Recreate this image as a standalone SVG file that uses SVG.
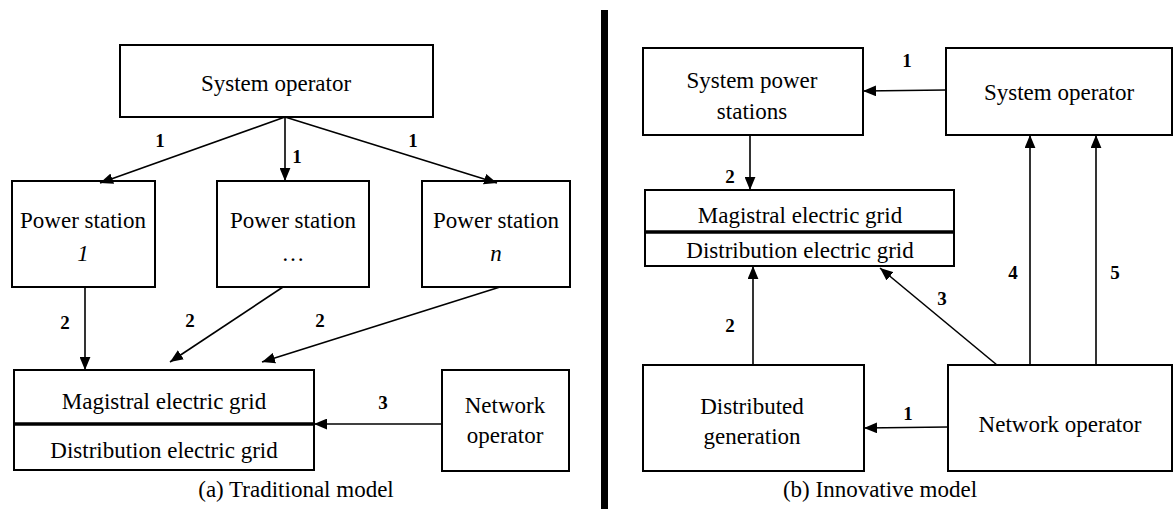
<svg xmlns="http://www.w3.org/2000/svg" width="1174" height="509" viewBox="0 0 1174 509">
<style>
.box{fill:#fff;stroke:#000;stroke-width:2}
.t{font-family:"Liberation Serif","DejaVu Serif",serif;font-size:23px;fill:#000;text-anchor:middle}
.n{font-family:"Liberation Serif","DejaVu Serif",serif;font-size:19px;font-weight:bold;fill:#000;text-anchor:middle}
.c{font-family:"Liberation Serif","DejaVu Serif",serif;font-size:23px;fill:#000;text-anchor:middle}
.l{stroke:#000;stroke-width:1.6;fill:none;marker-end:url(#ah)}
</style>
<defs>
<marker id="ah" viewBox="0 0 12 10" refX="12" refY="5" markerWidth="13" markerHeight="11" markerUnits="userSpaceOnUse" orient="auto"><path d="M0,0 L12,5 L0,10 z" fill="#000"/></marker>
</defs>
<rect width="1174" height="509" fill="#fff"/>
<rect x="601" y="10" width="7" height="499" fill="#000"/>

<g id="a-system-operator"><rect class="box" x="120" y="45" width="313" height="72"/><text class="t" x="276" y="91">System operator</text></g>
<g id="a-ps1"><rect class="box" x="12" y="181" width="143" height="106"/><text class="t" x="83" y="228">Power station</text><text class="t" x="83" y="261" font-style="italic">1</text></g>
<g id="a-ps2"><rect class="box" x="217" y="181" width="152" height="106"/><text class="t" x="293" y="228">Power station</text><text class="t" x="293" y="261">…</text></g>
<g id="a-psn"><rect class="box" x="422" y="181" width="148" height="106"/><text class="t" x="496" y="228">Power station</text><text class="t" x="496" y="261" font-style="italic">n</text></g>
<g id="a-grid"><rect class="box" x="14" y="370" width="300" height="100"/><line x1="14" y1="424" x2="314" y2="424" stroke="#000" stroke-width="3.5"/><text class="t" x="164" y="409">Magistral electric grid</text><text class="t" x="164" y="458">Distribution electric grid</text></g>
<g id="a-netop"><rect class="box" x="442" y="370" width="127" height="101"/><text class="t" x="505" y="413">Network</text><text class="t" x="505" y="443">operator</text></g>
<text class="c" x="296" y="497">(a) Traditional model</text>

<g id="b-sps"><rect class="box" x="643" y="48" width="220" height="87"/><text class="t" x="752" y="88">System power</text><text class="t" x="752" y="119">stations</text></g>
<g id="b-sysop"><rect class="box" x="946" y="48" width="226" height="87"/><text class="t" x="1059" y="100">System operator</text></g>
<g id="b-grid"><rect class="box" x="645" y="190" width="309" height="76"/><line x1="645" y1="232" x2="954" y2="232" stroke="#000" stroke-width="3.5"/><text class="t" x="800" y="223">Magistral electric grid</text><text class="t" x="800" y="258">Distribution electric grid</text></g>
<g id="b-dg"><rect class="box" x="643" y="365" width="221" height="106"/><text class="t" x="752" y="414">Distributed</text><text class="t" x="752" y="444">generation</text></g>
<g id="b-netop"><rect class="box" x="948" y="365" width="224" height="106"/><text class="t" x="1060" y="432">Network operator</text></g>
<text class="c" x="880" y="497">(b) Innovative model</text>

<g id="connectors">
<line class="l" x1="285" y1="117" x2="100" y2="183"/>
<line class="l" x1="285" y1="117" x2="285" y2="181"/>
<line class="l" x1="285" y1="117" x2="497" y2="183"/>
<line class="l" x1="85" y1="287" x2="85" y2="370"/>
<line class="l" x1="283" y1="287" x2="170" y2="362"/>
<line class="l" x1="500" y1="287" x2="262" y2="362"/>
<line class="l" x1="442" y1="424" x2="314" y2="424"/>
<line class="l" x1="946" y1="90" x2="863" y2="91"/>
<line class="l" x1="750" y1="135" x2="750" y2="190"/>
<line class="l" x1="753" y1="365" x2="753" y2="266"/>
<line class="l" x1="997" y1="365" x2="880" y2="268"/>
<line class="l" x1="1030" y1="365" x2="1030" y2="135"/>
<line class="l" x1="1096" y1="365" x2="1096" y2="135"/>
<line class="l" x1="948" y1="427" x2="864" y2="428"/>
<text class="n" x="160" y="147">1</text>
<text class="n" x="297" y="163">1</text>
<text class="n" x="413" y="147">1</text>
<text class="n" x="65" y="329">2</text>
<text class="n" x="190" y="327">2</text>
<text class="n" x="320" y="327">2</text>
<text class="n" x="383" y="409">3</text>
<text class="n" x="907" y="67">1</text>
<text class="n" x="730" y="183">2</text>
<text class="n" x="730" y="332">2</text>
<text class="n" x="942" y="305">3</text>
<text class="n" x="1013" y="279">4</text>
<text class="n" x="1115" y="279">5</text>
<text class="n" x="908" y="420">1</text>
</g>
</svg>
